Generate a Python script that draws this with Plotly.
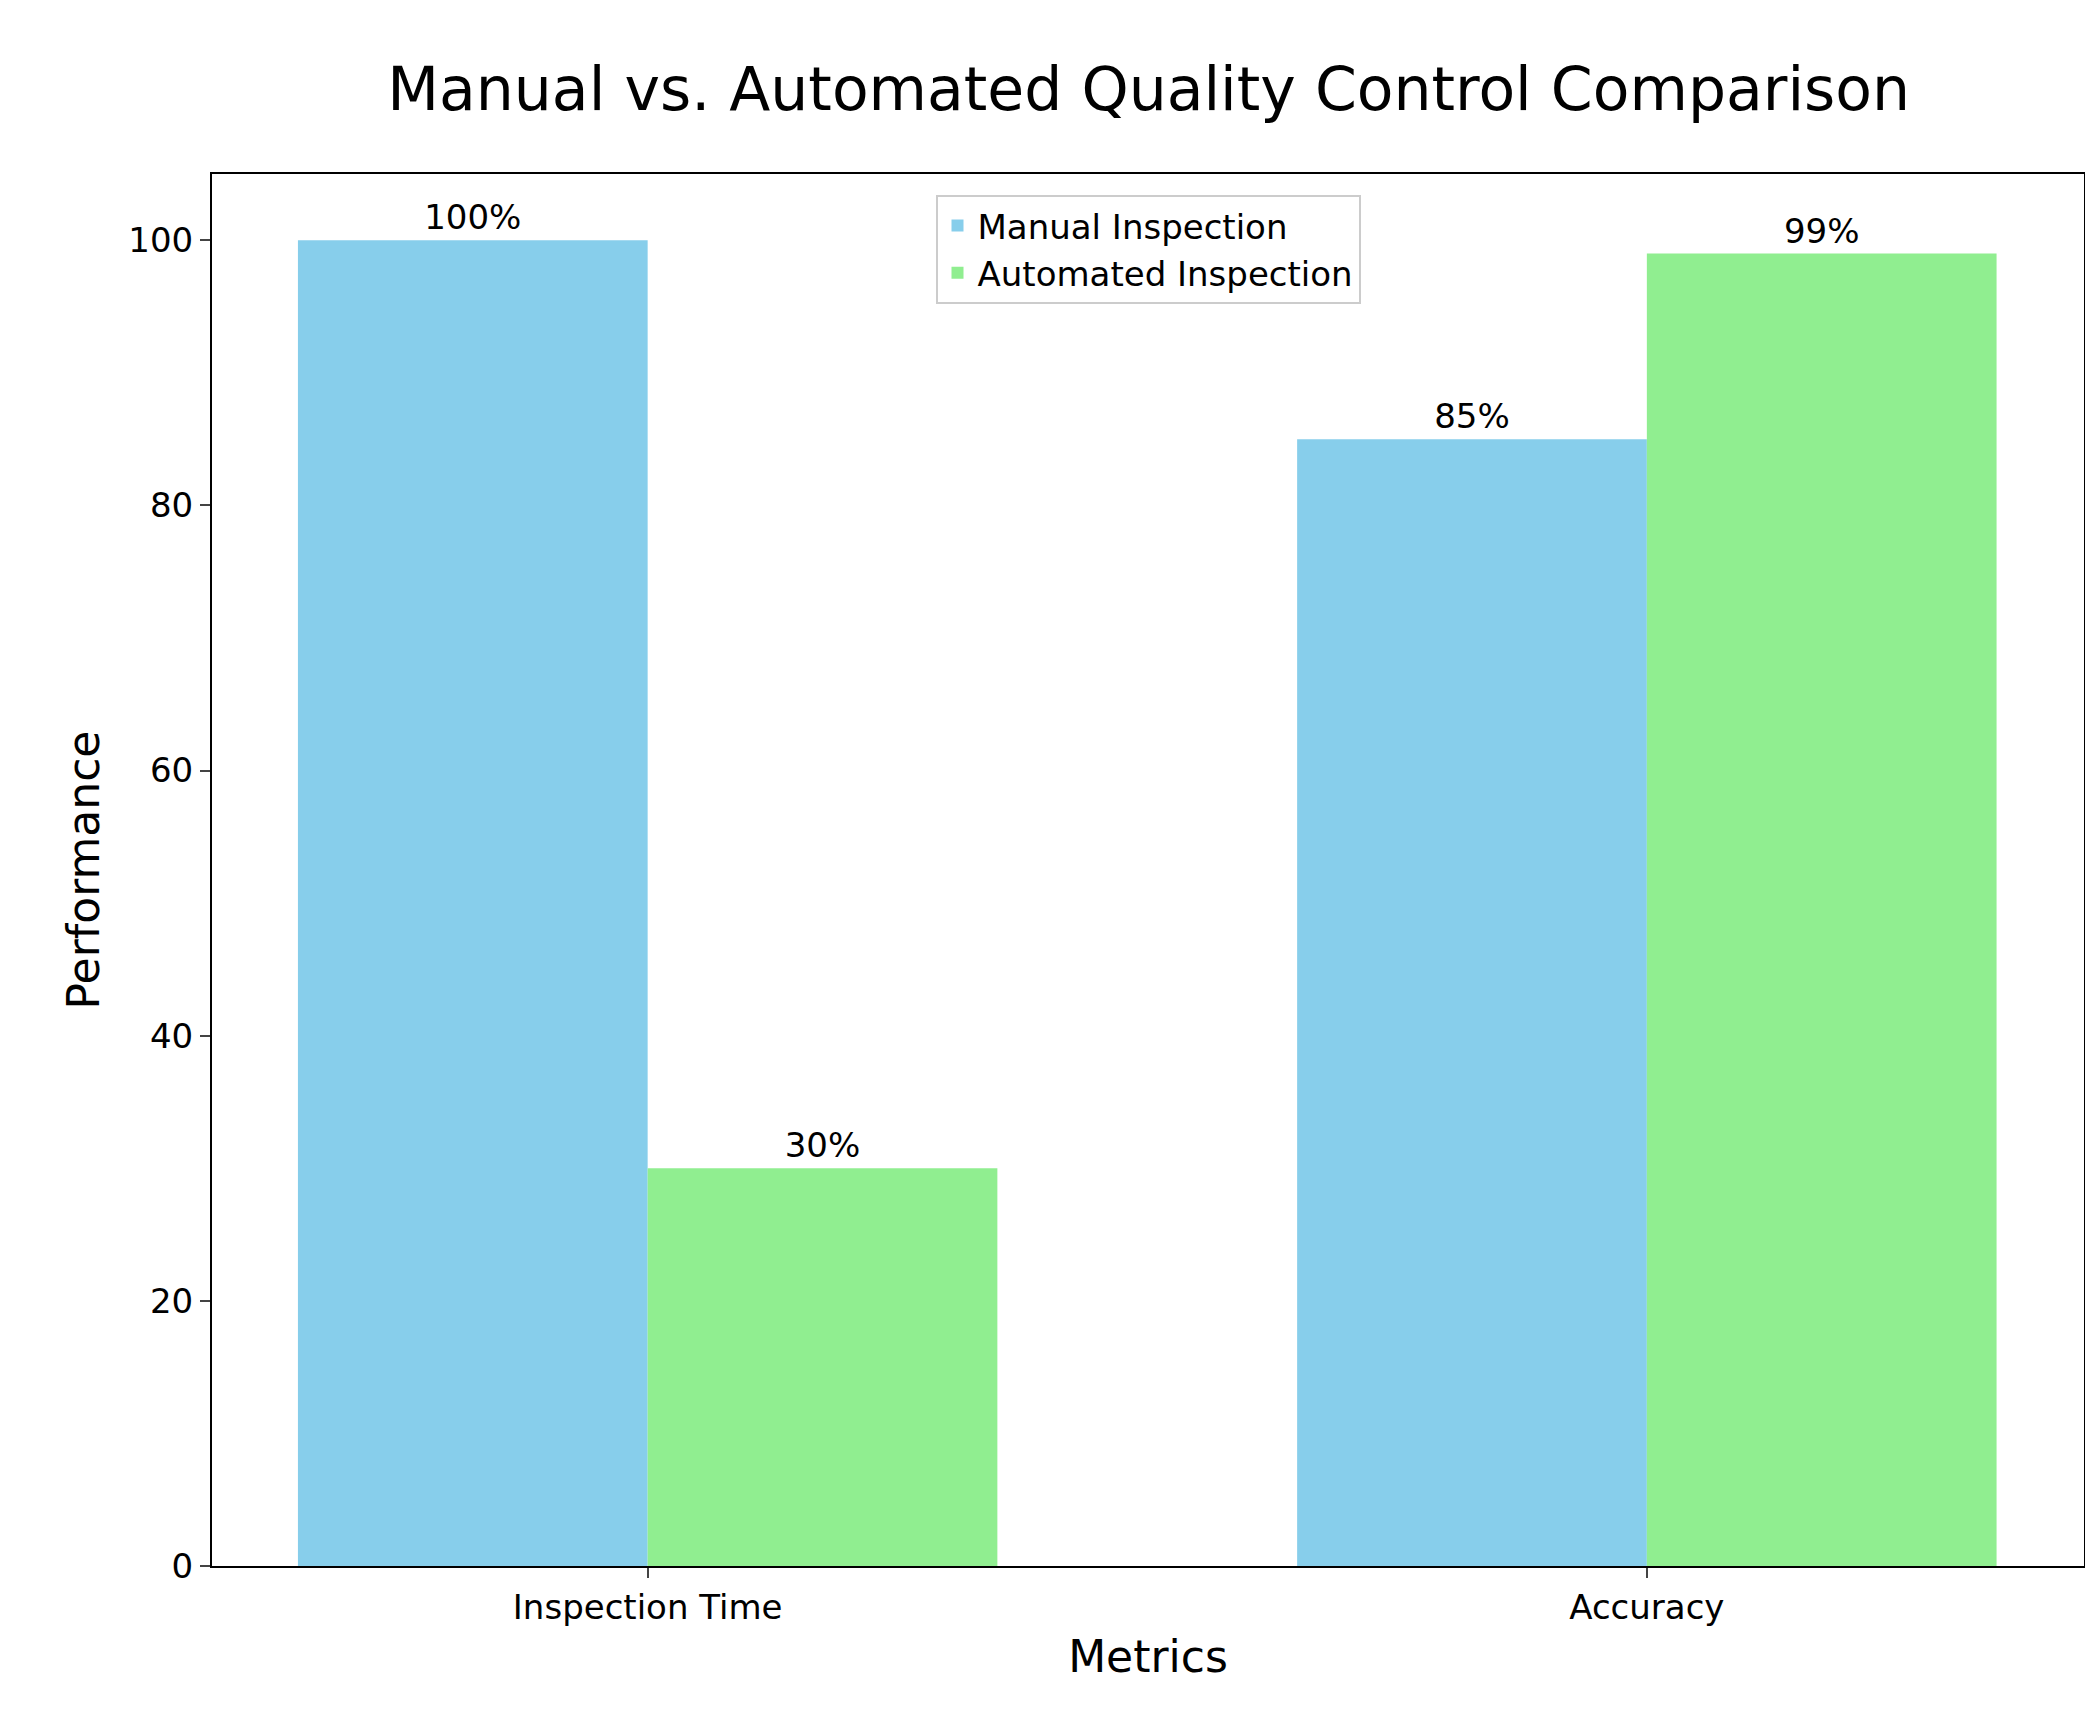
import plotly.graph_objects as go

metrics = ["Inspection Time", "Accuracy"]
manual = [100, 85]
automated = [30, 99]
pos = [0, 1]

font = "DejaVu Sans"
fig = go.Figure()
fig.add_trace(go.Bar(
    x=pos, y=manual, name="Manual Inspection", width=0.35, offset=-0.35,
    marker=dict(color="#87CEEB", line=dict(width=0)),
    text=[f"{v}%" for v in manual], textposition="outside", cliponaxis=False,
    textfont=dict(size=34, color="black"),
))
fig.add_trace(go.Bar(
    x=pos, y=automated, name="Automated Inspection", width=0.35, offset=0,
    marker=dict(color="#90EE90", line=dict(width=0)),
    text=[f"{v}%" for v in automated], textposition="outside", cliponaxis=False,
    textfont=dict(size=34, color="black"),
))
fig.update_layout(
    width=2093, height=1717, barmode="overlay",
    plot_bgcolor="white", paper_bgcolor="white",
    font=dict(family=font, size=34, color="black"),
    margin=dict(l=204, r=17, t=166, b=159),
    title=dict(text="Manual vs. Automated Quality Control Comparison",
               x=0.545, xanchor="center", y=0.965, yanchor="top",
               font=dict(size=60)),
    legend=dict(x=0.5, xanchor="center", y=0.985, yanchor="top",
                bordercolor="#cccccc", borderwidth=2, font=dict(size=34),
                bgcolor="rgba(255,255,255,0.8)"),
    xaxis=dict(range=[-0.436, 1.4375], tickvals=pos, ticktext=metrics,
               showline=True, linecolor="black", linewidth=2, mirror=True,
               ticks="outside", ticklen=10, tickwidth=2, showgrid=False,
               title=dict(text="Metrics", font=dict(size=44))),
    yaxis=dict(range=[0, 105], tickvals=[0, 20, 40, 60, 80, 100],
               showline=True, linecolor="black", linewidth=2, mirror=True,
               ticks="outside", ticklen=10, tickwidth=2, showgrid=False,
               zeroline=False,
               title=dict(text="Performance", font=dict(size=44))),
)
fig.write_html("out.html")
